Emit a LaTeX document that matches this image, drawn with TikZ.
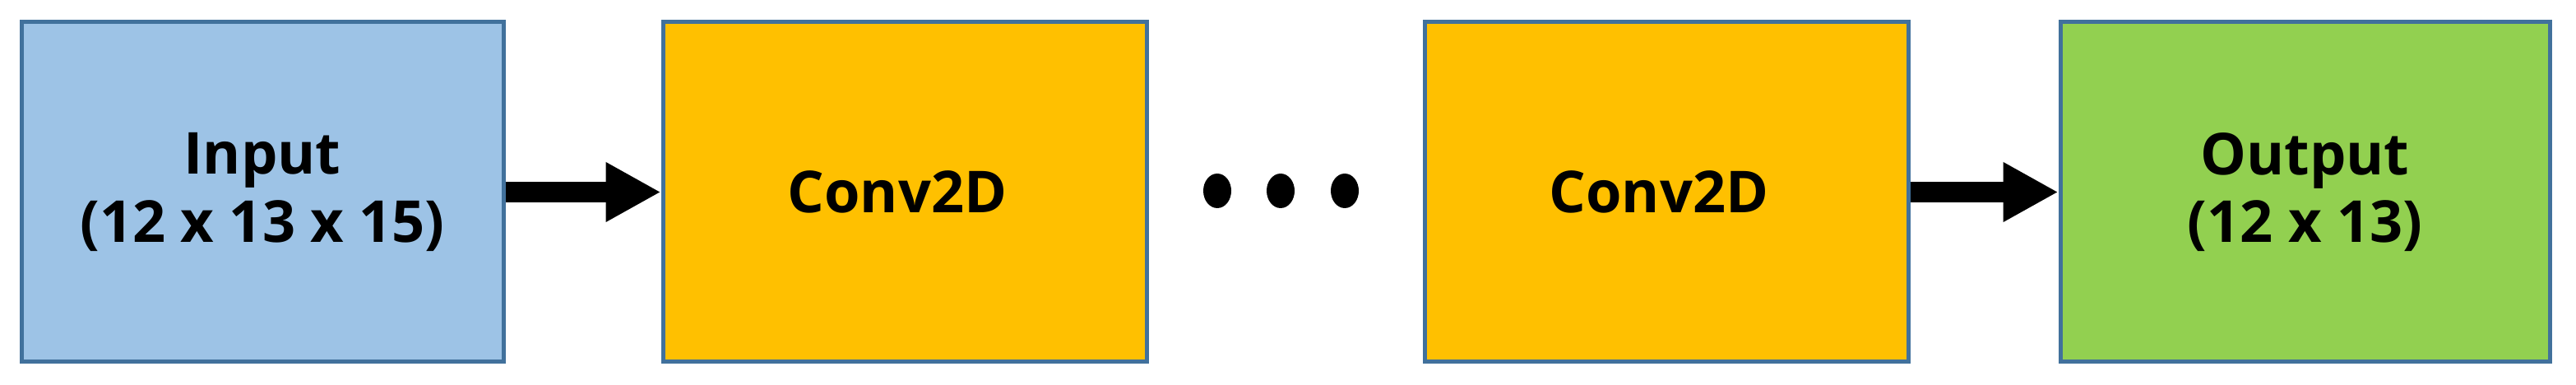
\documentclass[tikz,border=0pt]{standalone}
\usepackage{fontspec}
\setmainfont{Open Sans}
\usetikzlibrary{arrows.meta}
\definecolor{inblue}{RGB}{157,195,230}
\definecolor{convorange}{RGB}{255,192,0}
\definecolor{outgreen}{RGB}{146,208,80}
\definecolor{edgeblue}{RGB}{65,113,156}

\begin{document}
\begin{tikzpicture}[every path/.style={>={Triangle[length=0.67cm,width=0.68cm]}},
  every node/.style={draw=edgeblue,line width=0.05cm,rectangle,minimum height=4.13cm,
    align=center,font=\fontsize{20}{23.5}\selectfont\bfseries}]
\useasboundingbox (0,0) rectangle (31.32,4.68);
\node[fill=inblue,minimum width=5.86cm]     (in)  at (3.19,2.345)  { Input\\(12 x 13 x 15) };
\node[fill=convorange,minimum width=5.88cm] (c1)  at (11.00,2.345) { Conv2D };
\node[fill=convorange,minimum width=5.88cm] (c2)  at (20.26,2.345) { Conv2D };
\node[fill=outgreen,minimum width=5.95cm]   (out) at (28.025,2.345) { Output\\(12 x 13) };
\fill (14.80,2.36) ellipse (0.17 and 0.21);
\fill (15.57,2.36) ellipse (0.17 and 0.21);
\fill (16.35,2.36) ellipse (0.17 and 0.21);
\draw[->,line width=0.25cm] (in.east)  -- (c1.west);
\draw[->,line width=0.25cm] (c2.east)  -- (out.west);
\end{tikzpicture}
\end{document}
